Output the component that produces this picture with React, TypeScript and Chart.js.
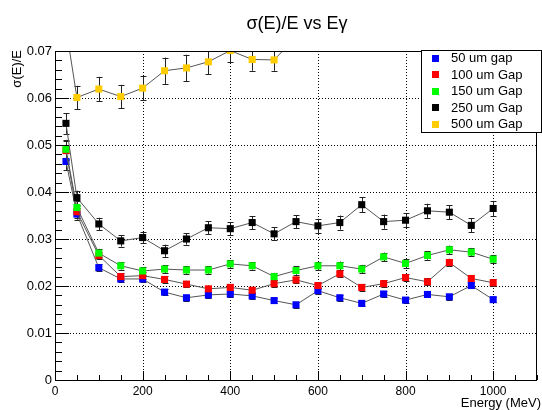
import { useEffect, useRef } from "react";
import { Chart, registerables } from "chart.js";

Chart.register(...registerables);

const FONT = '"Liberation Sans", Arial, Helvetica, sans-serif';

const energies = [25, 50, 100, 150, 200, 250, 300, 350, 400, 450, 500, 550, 600, 650, 700, 750, 800, 850, 900, 950, 1000];
const energies500 = [25, 50, 100, 150, 200, 250, 300, 350, 400, 450, 500, 550];

const gap50 = [0.0465, 0.0353, 0.0239, 0.0215, 0.0215, 0.0187, 0.0175, 0.0181, 0.0183, 0.0179, 0.0169, 0.0160, 0.0190, 0.0175, 0.0163, 0.0183, 0.0170, 0.0182, 0.0177, 0.0201, 0.0171];
const gap50Err = [0.0018, 0.0012, 0.0007, 0.0006, 0.0006, 0.0006, 0.0006, 0.0006, 0.0006, 0.0006, 0.0006, 0.0006, 0.0006, 0.0006, 0.0006, 0.0006, 0.0006, 0.0006, 0.0006, 0.0006, 0.0006];

const gap100 = [0.0488, 0.0358, 0.0265, 0.0220, 0.0222, 0.0214, 0.0204, 0.0194, 0.0197, 0.0191, 0.0205, 0.0213, 0.0201, 0.0226, 0.0197, 0.0205, 0.0218, 0.0209, 0.0250, 0.0216, 0.0207];
const gap100Err = [0.0020, 0.0013, 0.0008, 0.0007, 0.0007, 0.0007, 0.0007, 0.0007, 0.0007, 0.0007, 0.0007, 0.0007, 0.0007, 0.0007, 0.0007, 0.0007, 0.0007, 0.0007, 0.0008, 0.0007, 0.0007];

const gap150 = [0.0491, 0.0367, 0.0270, 0.0243, 0.0232, 0.0236, 0.0234, 0.0234, 0.0247, 0.0243, 0.0220, 0.0233, 0.0243, 0.0243, 0.0236, 0.0262, 0.0248, 0.0265, 0.0277, 0.0272, 0.0257];
const gap150Err = [0.0020, 0.0013, 0.0009, 0.0008, 0.0008, 0.0008, 0.0008, 0.0008, 0.0008, 0.0008, 0.0008, 0.0009, 0.0009, 0.0009, 0.0009, 0.0009, 0.0009, 0.0009, 0.0009, 0.0009, 0.0009];

const gap250 = [0.0546, 0.0388, 0.0332, 0.0296, 0.0303, 0.0275, 0.0300, 0.0324, 0.0322, 0.0335, 0.0311, 0.0337, 0.0328, 0.0335, 0.0373, 0.0337, 0.0340, 0.0360, 0.0357, 0.0329, 0.0365];
const gap250Err = [0.0022, 0.0015, 0.0013, 0.0012, 0.0012, 0.0013, 0.0012, 0.0014, 0.0014, 0.0014, 0.0014, 0.0014, 0.0015, 0.0015, 0.0016, 0.0015, 0.0015, 0.0015, 0.0015, 0.0015, 0.0016];

const gap500 = [0.0750, 0.0601, 0.0619, 0.0603, 0.0621, 0.0658, 0.0664, 0.0677, 0.0701, 0.0682, 0.0681, 0.0730];
const gap500Err = [0.0030, 0.0025, 0.0026, 0.0025, 0.0026, 0.0028, 0.0028, 0.0026, 0.0025, 0.0024, 0.0023, 0.0025];

const seriesLabels = ["50 um gap", "100 um Gap", "150 um Gap", "250 um Gap", "500 um Gap"];
const seriesColors = ["#0000ff", "#ff0000", "#00ff00", "#000000", "#ffcc00"];

const xTicks = [0, 200, 400, 600, 800, 1000];
const xMinorStep = 50;
const yTicks = [0, 0.01, 0.02, 0.03, 0.04, 0.05, 0.06, 0.07];
const yMinorStep = 0.002;

const titleText = "σ(E)/E vs Eγ";
const xTitle = "Energy (MeV)";
const yTitle = "σ(E)/E";

const seriesX = [energies, energies, energies, energies, energies500];
const seriesY = [gap50, gap100, gap150, gap250, gap500];
const seriesErr = [gap50Err, gap100Err, gap150Err, gap250Err, gap500Err];

const decor = {
  id: "decor",
  beforeDatasetsDraw(chart: any) {
    const { ctx, chartArea: a, scales } = chart;
    const x = scales.x;
    const y = scales.y;
    ctx.save();
    ctx.strokeStyle = "#000";
    ctx.lineWidth = 1;
    ctx.setLineDash([1, 2]);
    for (const t of xTicks) {
      if (t <= 0) continue;
      const px = Math.round(x.getPixelForValue(t)) + 0.5;
      ctx.beginPath();
      ctx.moveTo(px, a.top);
      ctx.lineTo(px, a.bottom);
      ctx.stroke();
    }
    for (const t of yTicks) {
      if (t <= 0 || t >= 0.07) continue;
      const py = Math.round(y.getPixelForValue(t)) + 0.5;
      ctx.beginPath();
      ctx.moveTo(a.left, py);
      ctx.lineTo(a.right, py);
      ctx.stroke();
    }
    ctx.setLineDash([]);
    ctx.beginPath();
    ctx.rect(a.left, a.top, a.right - a.left, a.bottom - a.top);
    ctx.clip();
    ctx.strokeStyle = "#222";
    for (let s = 0; s < seriesY.length; s++) {
      const xs = seriesX[s];
      const ys = seriesY[s];
      const es = seriesErr[s];
      for (let j = 0; j < ys.length; j++) {
        const px = Math.round(x.getPixelForValue(xs[j])) + 0.5;
        const y1 = y.getPixelForValue(ys[j] - es[j]);
        const y2 = y.getPixelForValue(ys[j] + es[j]);
        ctx.beginPath();
        ctx.moveTo(px, y1);
        ctx.lineTo(px, y2);
        ctx.moveTo(px - 3, Math.round(y1) + 0.5);
        ctx.lineTo(px + 3, Math.round(y1) + 0.5);
        ctx.moveTo(px - 3, Math.round(y2) + 0.5);
        ctx.lineTo(px + 3, Math.round(y2) + 0.5);
        ctx.stroke();
      }
    }
    ctx.restore();
  },
  afterDatasetsDraw(chart: any) {
    const { ctx, chartArea: a, scales } = chart;
    const x = scales.x;
    const y = scales.y;
    ctx.save();
    ctx.strokeStyle = "#000";
    ctx.lineWidth = 1;
    // frame
    ctx.strokeRect(a.left + 0.5, a.top + 0.5, a.right - a.left - 1, a.bottom - a.top);
    // x ticks
    ctx.beginPath();
    for (let v = 0; v <= 1100; v += xMinorStep) {
      const px = Math.round(x.getPixelForValue(v)) + 0.5;
      const len = v % 200 === 0 ? 9 : 5;
      ctx.moveTo(px, a.bottom);
      ctx.lineTo(px, a.bottom - len);
    }
    // y ticks
    for (let k = 0; k <= 35; k++) {
      const v = k * yMinorStep;
      const py = Math.round(y.getPixelForValue(v)) + 0.5;
      const len = k % 5 === 0 ? 14 : 7;
      ctx.moveTo(a.left, py);
      ctx.lineTo(a.left + len, py);
    }
    ctx.stroke();

    // titles
    ctx.fillStyle = "#000";
    ctx.font = `18px ${FONT}`;
    ctx.textAlign = "center";
    ctx.textBaseline = "alphabetic";
    ctx.fillText(titleText, 297, 29);

    ctx.font = `13px ${FONT}`;
    ctx.textAlign = "right";
    ctx.fillText(xTitle, 541, 407);

    ctx.save();
    ctx.translate(21, a.top - 1);
    ctx.rotate(-Math.PI / 2);
    ctx.textAlign = "right";
    ctx.fillText(yTitle, 0, 0);
    ctx.restore();

    // legend
    const lx = 421;
    const ly = a.top - 1;
    const lw = 120;
    const lh = 82;
    ctx.fillStyle = "#fff";
    ctx.fillRect(lx, ly, lw, lh);
    ctx.strokeStyle = "#000";
    ctx.strokeRect(lx + 0.5, ly + 0.5, lw, lh);
    ctx.font = `13px ${FONT}`;
    ctx.textAlign = "left";
    ctx.textBaseline = "middle";
    for (let i = 0; i < seriesLabels.length; i++) {
      const cy = ly + 8 + i * 16.5;
      ctx.fillStyle = seriesColors[i];
      ctx.fillRect(432, Math.round(cy - 3.5), 7, 7);
      ctx.fillStyle = "#000";
      ctx.fillText(seriesLabels[i], 451, cy + 0.5);
    }
    ctx.restore();
  },
};

export default function App() {
  const ref = useRef<HTMLCanvasElement>(null);
  useEffect(() => {
    if (!ref.current) return;
    const datasets = seriesY.map((ys, s) => ({
      label: seriesLabels[s],
      data: ys.map((v, j) => ({ x: seriesX[s][j], y: v })),
      borderColor: "#555",
      borderWidth: 1,
      backgroundColor: seriesColors[s],
      pointBackgroundColor: seriesColors[s],
      pointBorderWidth: 0,
      pointRadius: 5,
      pointStyle: "rect",
      tension: 0,
      showLine: true,
      order: 5 - s,
    }));
    const chart = new Chart(ref.current, {
      type: "line",
      data: { datasets },
      options: {
        animation: false,
        responsive: false,
        devicePixelRatio: 1,
        layout: { padding: { top: 51, left: 0, right: 0, bottom: 0 } },
        plugins: {
          legend: { display: false },
          title: { display: false },
          tooltip: { enabled: false },
        },
        scales: {
          x: {
            type: "linear",
            min: 0,
            max: 1100,
            grid: { display: false, drawTicks: false },
            border: { display: false },
            ticks: {
              stepSize: 200,
              includeBounds: false,
              color: "#000",
              padding: 4,
              maxRotation: 0,
              font: { family: FONT, size: 12 },
              callback: (v: any) => String(Math.round(Number(v))),
            },
            afterFit: (s: any) => {
              s.height = 30;
            },
          },
          y: {
            type: "linear",
            min: 0,
            max: 0.07,
            grid: { display: false, drawTicks: false },
            border: { display: false },
            ticks: {
              stepSize: 0.01,
              color: "#000",
              padding: 3,
              font: { family: FONT, size: 13 },
              callback: (v: any) => (v === 0 ? "0" : Number(v).toFixed(2)),
            },
            afterFit: (s: any) => {
              s.width = 55;
            },
          },
        },
      },
      plugins: [decor],
    });
    return () => chart.destroy();
  }, []);
  return (
    <div style={{ position: "absolute", left: 0, top: 0, width: 542, height: 410 }}>
      <canvas ref={ref} width={542} height={410} />
    </div>
  );
}
